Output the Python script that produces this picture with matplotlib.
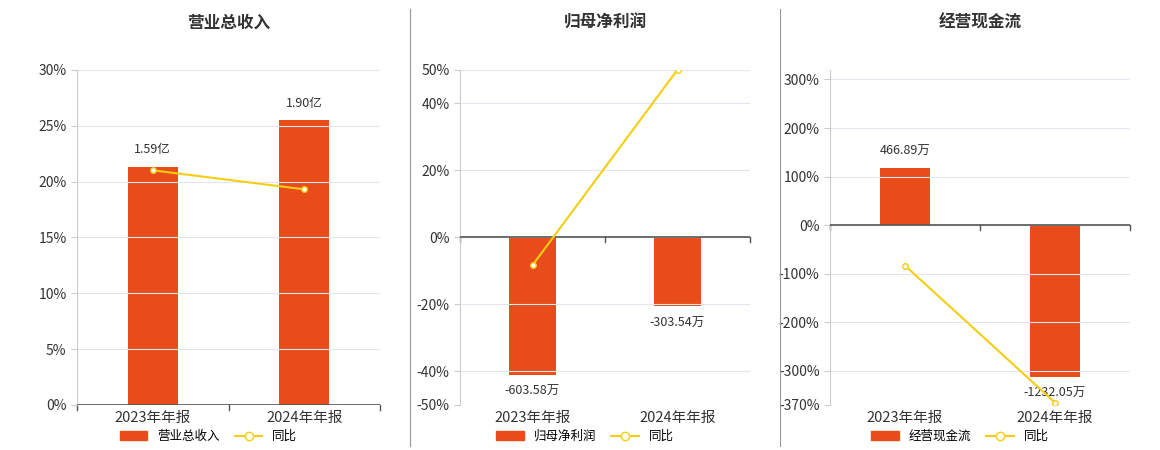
import numpy as np
import matplotlib.pyplot as plt
from matplotlib.lines import Line2D
from matplotlib.patches import Patch

plt.rcParams['font.family'] = ['Noto Sans CJK SC', 'DejaVu Sans']

years = ['2023年年报', '2024年年报']
titles = ['营业总收入', '归母净利润', '经营现金流']
bar_vals = [[1.59, 1.90], [-603.58, -303.54], [466.89, -1232.05]]
bar_labels = [['1.59亿', '1.90亿'], ['-603.58万', '-303.54万'], ['466.89万', '-1232.05万']]
yoy = [[21.0, 19.3], [-8.3, 50.0], [-83.0, -365.0]]
pct_ticks = [[0, 5, 10, 15, 20, 25, 30], [-50, -40, -20, 0, 20, 40, 50],
             [-370, -300, -200, -100, 0, 100, 200, 300]]
pct_lims = [(0, 30), (-50, 50), (-370, 320)]
# bar value per percent point on the left axis
bar_scale = [1.90 / 25.5, 603.58 / 41.0, 466.89 / 118.0]

bar_c = '#E84C1B'
line_c = '#F5CE0F'

fig = plt.figure(figsize=(11.6, 4.5), dpi=100)
lefts = [77, 460, 830]
widths = [303, 290, 300]
for i in range(3):
    ax = fig.add_axes([lefts[i] / 1160, 0.1, widths[i] / 1160, 0.745])
    axb = ax.twinx()
    lo, hi = pct_lims[i]
    ax.set_ylim(lo, hi)
    axb.set_ylim(lo * bar_scale[i], hi * bar_scale[i])
    x = np.arange(2)
    axb.bar(x, bar_vals[i], width=0.33, color=bar_c, zorder=2)
    for xi, v, t in zip(x, bar_vals[i], bar_labels[i]):
        off = 0.03 * (hi - lo) * bar_scale[i]
        axb.text(xi, v + off if v > 0 else v - off, t, ha='center',
                 va='bottom' if v > 0 else 'top', fontsize=9, color='#333333')
    axb.set_yticks([])
    for s in axb.spines.values():
        s.set_visible(False)
    ax.set_zorder(axb.get_zorder() + 1)
    ax.patch.set_visible(False)
    ax.plot(x, yoy[i], color=line_c, lw=1.5, marker='o', ms=4,
            markerfacecolor='white', markeredgecolor=line_c, zorder=5)
    ax.set_xlim(-0.5, 1.5)
    ax.set_yticks(pct_ticks[i])
    ax.set_yticklabels([f'{t}%' for t in pct_ticks[i]], fontsize=10, color='#333333')
    ax.yaxis.grid(True, color='#e3e6ee', lw=0.8)
    ax.set_axisbelow(True)
    for s in ['top', 'right', 'bottom']:
        ax.spines[s].set_visible(False)
    ax.spines['left'].set_color('#cccccc')
    ax.tick_params(axis='y', length=4, color='#cccccc')
    ax.set_xticks(x)
    ax.set_xticklabels(years, fontsize=10.5, color='#333333')
    ax.tick_params(axis='x', length=0, pad=4 + (0 - lo) / (hi - lo) * 0)
    ax.axhline(0, color='#555555', lw=1.2, zorder=4)
    for tx in [-0.5, 0.5, 1.5]:
        ax.plot([tx, tx], [0, -0.015 * (hi - lo)], color='#555555', lw=1, clip_on=False)
    fig.text((lefts[i] + widths[i] / 2) / 1160, 0.95, titles[i], ha='center',
             va='center', fontsize=12, fontweight='bold', color='#333333')
    handles = [Patch(color=bar_c), Line2D([], [], color=line_c, marker='o', ms=6,
                                          markerfacecolor='white')]
    fig.legend(handles, [titles[i], '同比'], loc='center',
               bbox_to_anchor=((lefts[i] + widths[i] / 2 - 20) / 1160, 0.03),
               ncol=2, frameon=False, fontsize=9, handlelength=2.2, columnspacing=1.2)

for xs in [410, 780]:
    fig.add_artist(Line2D([xs / 1160] * 2, [0.01, 0.98], color='#999999', lw=0.8))

fig.savefig('out.png', dpi=100)
